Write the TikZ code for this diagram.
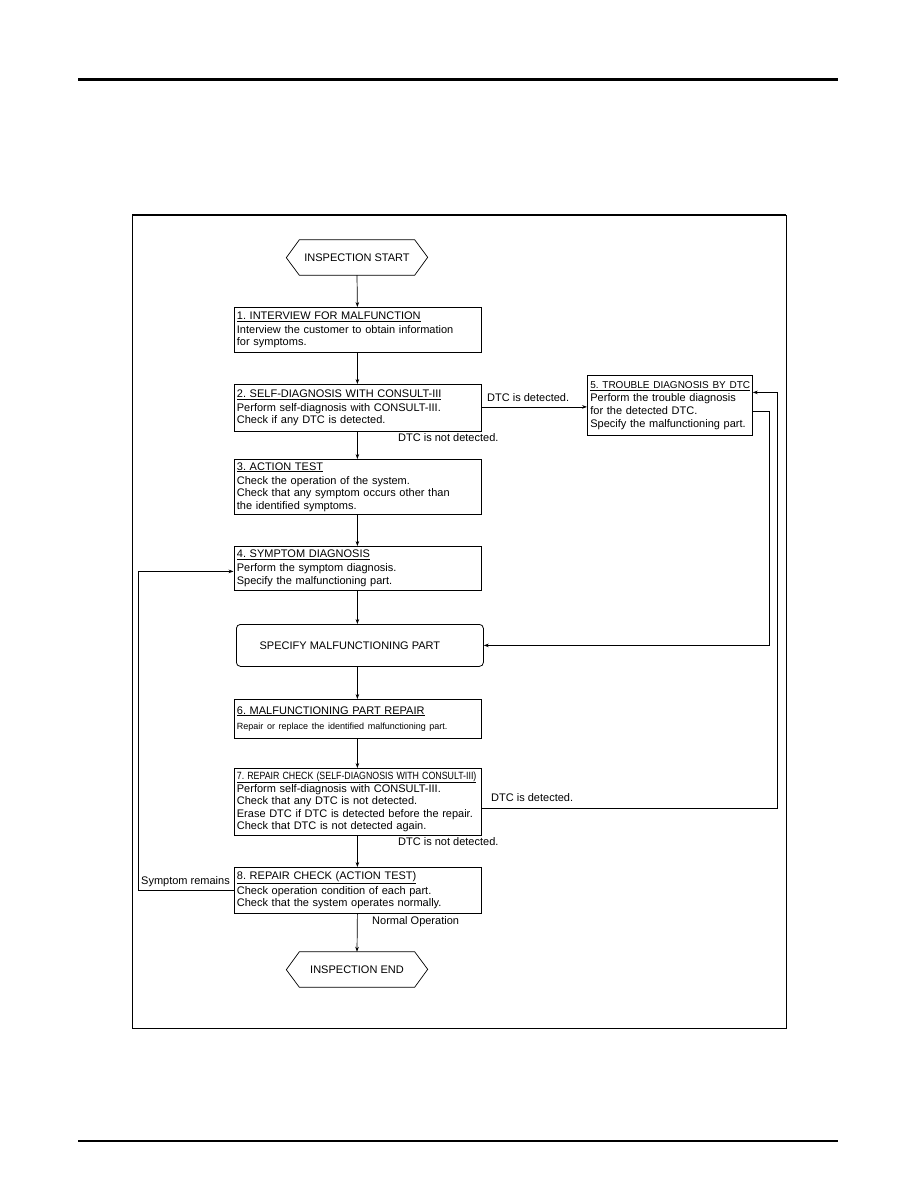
\documentclass[tikz,border=0pt]{standalone}
\usepackage{fontspec}
\setmainfont{Liberation Sans}
\usetikzlibrary{arrows.meta}
\frenchspacing
\begin{document}
\begin{tikzpicture}[x=1pt,y=-1pt,
  every node/.style={font=\fontsize{11}{12.6}\selectfont},
  box/.style={draw, line width=0.8pt, rectangle, anchor=north west, inner sep=3pt,
    minimum width=247pt, text width=241pt, align=left},
  smallbox/.style={box, minimum width=165pt, text width=159pt},
  term/.style={minimum width=115pt, minimum height=35pt, inner sep=0pt},
  lbl/.style={inner sep=0pt},
  arr/.style={line width=0.7pt, -{Stealth[length=5pt,width=3.6pt]}},
  ln/.style={line width=0.7pt}]
\useasboundingbox (0,0) rectangle (918,1188);
% page rules and frame
\draw[line width=3pt] (78,80) -- (838,80);
\draw[line width=1.5pt] (78,1141) -- (838,1141);
\draw[line width=0.9pt] (132,215) rectangle (786,1028);
\draw[line width=2pt] (132,215) -- (786,215);

% terminals
\node[term] (start) at (357,257.5) {INSPECTION START};
\draw[ln] (start.north west) -- (start.north east) -- ++(13,17.5) -- (start.south east)
  -- (start.south west) -- ++(-13,-17.5) -- cycle;
\node[term] (end) at (357,969.5) {INSPECTION END};
\draw[ln] (end.north west) -- (end.north east) -- ++(13,17.5) -- (end.south east)
  -- (end.south west) -- ++(-13,-17.5) -- cycle;

% boxes
\node[box, minimum height=45pt] (b1) at (233.5,307)
  {\underline{1. INTERVIEW FOR MALFUNCTION}\\[1.5pt]Interview the customer to obtain information\\for symptoms.};
\node[box, minimum height=47pt] (b2) at (233.5,384)
  {\underline{2. SELF-DIAGNOSIS WITH CONSULT-III}\\[1.5pt]Perform self-diagnosis with CONSULT-III.\\Check if any DTC is detected.};
\node[smallbox, minimum height=60pt] (b5) at (587,375)
  {{\fontsize{10}{12}\selectfont\underline{5. TROUBLE DIAGNOSIS BY DTC}}\\[1pt]Perform the trouble diagnosis\\for the detected DTC.\\Specify the malfunctioning part.};
\node[box, minimum height=55pt] (b3) at (233.5,459)
  {\underline{3. ACTION TEST}\\[1.5pt]Check the operation of the system.\\Check that any symptom occurs other than\\the identified symptoms.};
\node[box, minimum height=44pt] (b4) at (233.5,546)
  {\underline{4. SYMPTOM DIAGNOSIS}\\[1.5pt]Perform the symptom diagnosis.\\Specify the malfunctioning part.};
\node[draw, line width=0.8pt, rounded corners=4pt, anchor=north west, minimum width=247pt,
  minimum height=42pt] (spec) at (236,624)
  {SPECIFY MALFUNCTIONING PART\hspace*{20pt}};
\node[box, minimum height=39pt] (b6) at (233.5,699)
  {\underline{6. MALFUNCTIONING PART REPAIR}\\[3pt]{\fontsize{9}{11}\selectfont Repair or replace the identified malfunctioning part.}};
\node[box, minimum height=66pt] (b7) at (233.5,768)
  {\underline{\scalebox{0.84}[1]{\fontsize{10.5}{12}\selectfont 7. REPAIR CHECK (SELF-DIAGNOSIS WITH CONSULT-III)}}\\[0.5pt]Perform self-diagnosis with CONSULT-III.\\Check that any DTC is not detected.\\Erase DTC if DTC is detected before the repair.\\Check that DTC is not detected again.};
\node[box, minimum height=46pt] (b8) at (233.5,867)
  {\underline{8. REPAIR CHECK (ACTION TEST)}\\[1.5pt]Check operation condition of each part.\\Check that the system operates normally.};

% vertical flow
\draw[arr] (start.south) -- (b1.north);
\draw[arr] (b1.south) -- (b2.north);
\draw[arr] (b2.south) -- (b3.north);
\draw[arr] (b3.south) -- (b4.north);
\draw[arr] (b4.south) -- (b4.south |- spec.north);
\draw[arr] (b4.south |- spec.south) -- (b6.north);
\draw[arr] (b6.south) -- (b7.north);
\draw[arr] (b7.south) -- (b8.north);
\draw[arr] (b8.south) -- (end.north);

% side flows
\draw[arr] ([yshift=1pt]b2.east) -- ([yshift=1pt]b2.east -| b5.west);
\draw[arr] ([yshift=-6pt]b5.east) -- ++(17,0) |- (spec.east);
\draw[arr] ([yshift=-7pt]b7.east) -- ++(296.5,0) |- ([yshift=13pt]b5.east);
\draw[arr] (b8.west) -- ++(-95.5,0) |- ([yshift=-3pt]b4.west);

% labels
\node[lbl, anchor=west] (l1) at (487,397.5) {DTC is detected.};
\node[lbl, anchor=west] (l2) at (398,438) {DTC is not detected.};
\node[lbl, anchor=west] (l3) at (491,797.5) {DTC is detected.};
\node[lbl, anchor=west] (l4) at (398,842) {DTC is not detected.};
\node[lbl, anchor=east] (l5) at (230,881.5) {Symptom remains};
\node[lbl, anchor=west] (l6) at (372,921.5) {Normal Operation};
\end{tikzpicture}
\end{document}
